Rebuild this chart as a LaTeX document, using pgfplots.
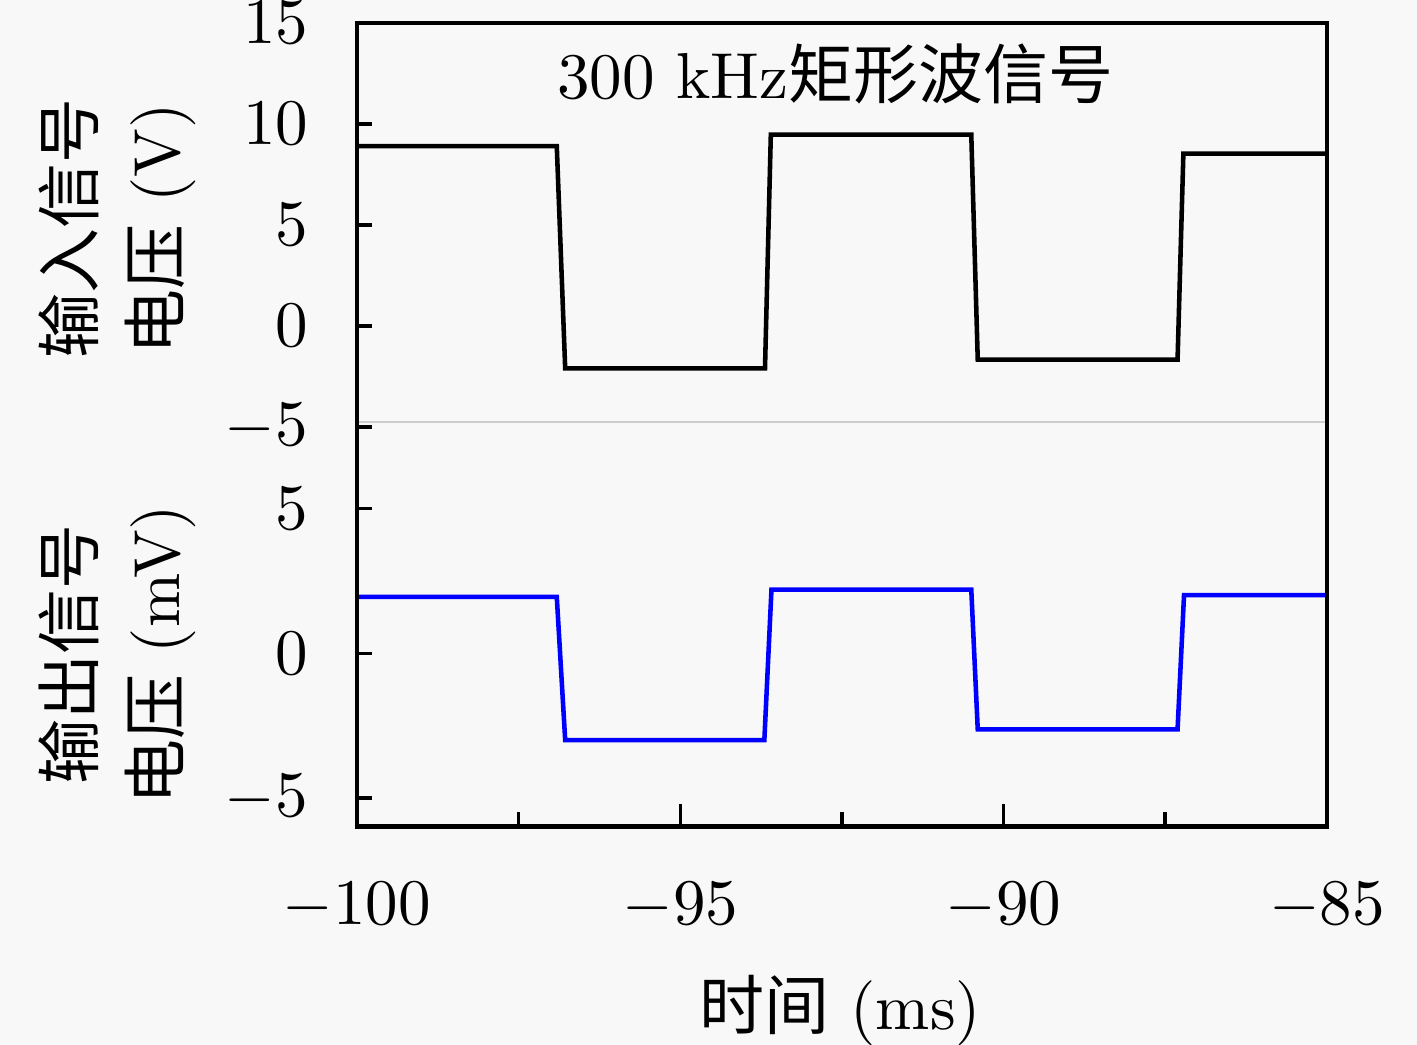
\documentclass[border=0pt]{standalone}
\usepackage{fontspec}
\usepackage{pgfplots}
\pgfplotsset{compat=1.18}
\newfontfamily\cjk{Noto Sans CJK SC}
\definecolor{bg}{RGB}{248,248,248}
\definecolor{sigblue}{RGB}{0,0,255}
\begin{document}
\begin{tikzpicture}
\fill[bg] (-54.92pt,-33.55pt) rectangle (163.08pt,127.22pt);
\path[use as bounding box] (-54.92pt,-33.55pt) rectangle (163.08pt,127.22pt);
\pgfplotsset{common/.style={
  width=149.23pt, scale only axis,
  xmin=-100, xmax=-85,
  axis line style={draw=none},
  tick style={black, line width=0.55pt},
  major tick length=3.5pt, minor tick length=2.3pt,
  major y tick style={draw=none},
  ytick pos=left,
  yticklabel style={xshift=-4pt},
  every axis plot/.append style={line width=0.7pt},
  tick label style={font=\fontsize{10}{12}\selectfont},
}}
\begin{axis}[common, at={(0pt,0pt)}, anchor=south west, height=62.31pt,
  ymin=-6, ymax=8, ytick={-5,0,5}, minor ytick={-5,0,5},
  xtick={-100,-95,-90,-85}, minor x tick num=1, xtick pos=bottom,
  xticklabel style={yshift=-5.1pt},
  xlabel={{\cjk 时间} (ms)},
  xlabel style={at={(axis description cs:0.498,-0.499)}, anchor=base, font=\fontsize{10}{12}\selectfont},
  ylabel={{\cjk 输出信号}\\{\cjk 电压} (mV)},
  ylabel style={at={(axis description cs:-0.247,0.425)}, anchor=center, align=center, font=\fontsize{10}{13.3}\selectfont},
]
\addplot[sigblue, line width=0.7pt] coordinates {
(-100,1.95) (-96.91,1.95) (-96.78,-3.0) (-93.70,-3.0) (-93.59,2.2)
(-90.50,2.2) (-90.40,-2.63) (-87.31,-2.63) (-87.21,2.01) (-85,2.01)};
\end{axis}
\begin{axis}[common, at={(0pt,61.54pt)}, anchor=south west, height=62.15pt,
  ymin=-5, ymax=15, ytick={-5,0,5,10,15}, minor ytick={-5,0,5,10,15},
  xtick=\empty,
  ylabel={{\cjk 输入信号}\\{\cjk 电压} (V)},
  ylabel style={at={(axis description cs:-0.247,0.49)}, anchor=center, align=center, font=\fontsize{10}{13.3}\selectfont},
]
\addplot[black, line width=0.7pt] coordinates {
(-100,8.9) (-96.91,8.9) (-96.78,-2.1) (-93.69,-2.1) (-93.60,9.47)
(-90.50,9.47) (-90.40,-1.67) (-87.31,-1.67) (-87.22,8.53) (-85,8.53)};
\node[anchor=base, font=\fontsize{10}{12}\selectfont] at (axis description cs:0.493,0.812) {300 kHz{\cjk 矩形波信号}};
\end{axis}
\draw[black!20, line width=0.25pt] (0pt,62.31pt) -- (149.23pt,62.31pt);
\draw[black, line width=0.75pt] (0pt,0pt) rectangle (149.23pt,123.69pt);
\end{tikzpicture}
\end{document}
